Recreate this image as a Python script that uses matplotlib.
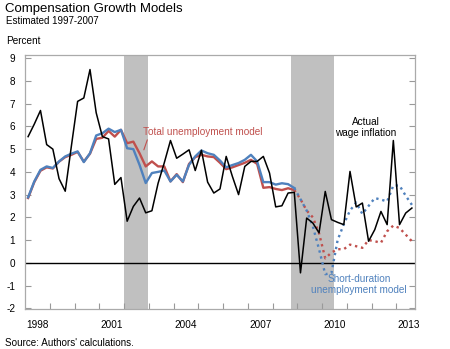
import numpy as np
import matplotlib
matplotlib.use('Agg')
import matplotlib.pyplot as plt

plt.rcParams['font.family'] = ['Liberation Sans', 'DejaVu Sans']
plt.rcParams['axes.unicode_minus'] = False

# quarterly observations, Q1 1998 .. Q3 2013 (plotted at mid-quarter)
quarters = np.arange(1998.125, 2013.7, 0.25)

actual = [5.55, 6.1, 6.7, 5.2,
          5.0, 3.7, 3.15, 5.15,
          7.1, 7.25, 8.5, 6.6,
          5.55, 5.45, 3.45, 3.75,
          1.83, 2.48, 2.85, 2.2,
          2.29, 3.5, 4.4, 5.38,
          4.6, 4.78, 4.97, 4.06,
          4.95, 3.55, 3.07, 3.25,
          4.68, 3.8, 3.0, 4.24,
          4.46, 4.46, 4.68, 3.95,
          2.46, 2.51, 3.07, 3.1,
          -0.44, 1.97, 1.75, 1.32,
          3.14, 1.9, 1.78, 1.68,
          4.02, 2.46, 2.63, 0.95,
          1.46, 2.26, 1.68, 5.38,
          1.68, 2.19, 2.41]

total_model = [2.85, 3.55, 4.05, 4.2,
               4.15, 4.45, 4.65, 4.75,
               4.88, 4.45, 4.8, 5.45,
               5.5, 5.8, 5.55, 5.85,
               5.26, 5.33, 4.82, 4.24,
               4.46, 4.24, 4.24, 3.58,
               3.9, 3.55, 4.35, 4.65,
               4.75, 4.68, 4.65, 4.4,
               4.12, 4.2, 4.3, 4.4,
               4.53, 4.35, 3.3, 3.33,
               3.25, 3.2, 3.28, 3.2,
               2.8, 2.3, 2.0, 1.3,
               0.2, 0.45, 0.6, 0.6,
               0.8, 0.73, 0.66, 1.0,
               0.95, 0.88, 1.39, 1.64,
               1.53, 1.24, 0.95]

short_model = [2.88, 3.58, 4.09, 4.24,
               4.17, 4.46, 4.68, 4.8,
               4.9, 4.43, 4.82, 5.6,
               5.7, 5.9, 5.75, 5.85,
               5.04, 5.0, 4.31, 3.51,
               3.95, 4.0, 4.06, 3.58,
               3.87, 3.58, 4.31, 4.68,
               4.94, 4.82, 4.75, 4.5,
               4.2, 4.3, 4.39, 4.53,
               4.75, 4.46, 3.55, 3.55,
               3.44, 3.5, 3.46, 3.29,
               2.8, 2.3, 1.6, 0.6,
               -0.5, -0.45, 1.0, 1.7,
               2.3, 2.65, 2.15, 2.5,
               2.85, 2.78, 2.7, 3.4,
               3.4, 2.95, 2.55]

# last in-sample quarter index (solid lines end here, dotted afterwards)
split = 43

rec_start = [2001.98, 2008.73]
rec_end = [2002.97, 2010.46]

year_labels = ['1998', '2001', '2004', '2007', '2010', '2013']

red = '#c0504d'
blue = '#4f81bd'

fig = plt.figure(figsize=(4.5, 3.49), dpi=100)
ax = fig.add_axes([25/450, 1 - 309/349, 390/450, 254/349])

for s, e in zip(rec_start, rec_end):
    ax.axvspan(s, e, color='#c0c0c0', lw=0, zorder=1)

ax.axhline(0, color='black', lw=1.0, zorder=2)

q = quarters
ax.plot(q[:split+1], total_model[:split+1], color=red, lw=1.7, zorder=3)
ax.plot(q[split:], total_model[split:], color=red, lw=1.7, ls=(0, (1, 1.6)), zorder=3)
ax.plot(q[:split+1], short_model[:split+1], color=blue, lw=1.7, zorder=4)
ax.plot(q[split:], short_model[split:], color=blue, lw=1.7, ls=(0, (1, 1.6)), zorder=4)
ax.plot(q, actual, color='black', lw=1.1, zorder=5)

ax.set_xlim(1998.0, 2013.75)
ax.set_ylim(-2.03, 9.14)
ax.set_yticks(range(-2, 10))
ax.set_xticks(range(1999, 2014))
ax.set_xticklabels([])
ax.set_xticks([int(y) + 0.5 for y in year_labels], minor=True)
ax.set_xticklabels(year_labels, minor=True)
ax.tick_params(axis='x', which='major', direction='in', length=4, color='#999999', top=False)
ax.tick_params(axis='x', which='minor', length=0, pad=8, labelsize=7.2)
ax.tick_params(axis='y', direction='in', length=4, color='#999999', right=True,
               labelsize=7.2, pad=7)

for sp in ax.spines.values():
    sp.set_color('#aaaaaa')
    sp.set_linewidth(0.9)

ax.annotate('Total unemployment model', xy=(2002.8, 4.97), xytext=(2002.75, 5.75),
            color=red, fontsize=7.2, ha='left', va='center',
            arrowprops=dict(arrowstyle='-', color=red, lw=0.8, relpos=(0.05, 0.1),
                            shrinkA=0, shrinkB=0))
ax.text(2011.75, 5.96, 'Actual\nwage inflation', color='black', fontsize=7.2,
        ha='center', va='center', linespacing=1.1, zorder=6)
ax.text(2011.5, -0.96, 'Short-duration\nunemployment model', color=blue, fontsize=7.2,
        ha='center', va='center', linespacing=1.05, zorder=6)

fig.text(5/450, 1 - 9/349, 'Compensation Growth Models', fontsize=9.5, va='center', ha='left')
fig.text(6/450, 1 - 20.7/349, 'Estimated 1997-2007', fontsize=7.0, va='center', ha='left')
fig.text(6/450, 1 - 41/349, 'Percent', fontsize=7.2, va='center', ha='left')
fig.text(5/450, 1 - 343/349, "Source: Authors' calculations.", fontsize=7.1, va='center', ha='left')

fig.savefig('out.png', dpi=100)
